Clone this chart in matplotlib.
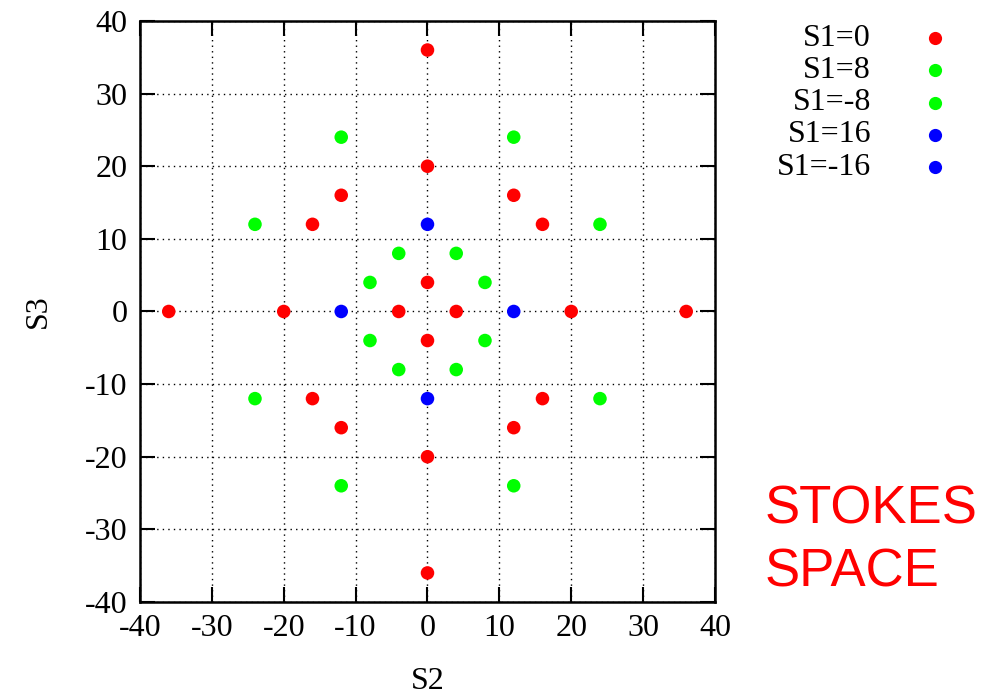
import matplotlib
matplotlib.use('Agg')
import matplotlib.pyplot as plt
from matplotlib.lines import Line2D

# constellation points in Stokes space (S2, S3), grouped by S1
s2_s1_0 = [0, 0, 0, 0, 0, 0, -36, -20, -4, 4, 20, 36, -12, 12, -16, 16, -16, 16, -12, 12]
s3_s1_0 = [36, 20, 4, -4, -20, -36, 0, 0, 0, 0, 0, 0, 16, 16, 12, 12, -12, -12, -16, -16]

s2_s1_p8 = [-4, 4, -8, 8, -8, 8, -4, 4]
s3_s1_p8 = [8, 8, 4, 4, -4, -4, -8, -8]

s2_s1_m8 = [-12, 12, -24, 24, -24, 24, -12, 12]
s3_s1_m8 = [24, 24, 12, 12, -12, -12, -24, -24]

s2_s1_p16 = [0, 0]
s3_s1_p16 = [12, -12]

s2_s1_m16 = [-12, 12]
s3_s1_m16 = [0, 0]

labels = ['S1=0', 'S1=8', 'S1=-8', 'S1=16', 'S1=-16']
colors = ['#ff0000', '#00ff00', '#00ff00', '#0000ff', '#0000ff']
xs = [s2_s1_0, s2_s1_p8, s2_s1_m8, s2_s1_p16, s2_s1_m16]
ys = [s3_s1_0, s3_s1_p8, s3_s1_m8, s3_s1_p16, s3_s1_m16]

plt.rcParams['axes.unicode_minus'] = False
serif = ['Liberation Serif', 'DejaVu Serif']
fs = 23

fig = plt.figure(figsize=(9.9, 6.99), dpi=100)
ax = fig.add_axes([0.1414, 0.1388, 0.5808, 0.8312])

for x, y, c in zip(xs, ys, colors):
    ax.scatter(x, y, s=95, color=c, edgecolors='none', zorder=3)

ax.set_xlim(-40, 40)
ax.set_ylim(-40, 40)
ax.set_xticks(range(-40, 41, 10))
ax.set_yticks(range(-40, 41, 10))
ax.grid(True, linestyle=(0, (1, 3)), color='black', linewidth=1.0)
ax.tick_params(direction='in', length=11, width=1.5, top=True, right=True, labelsize=fs, pad=9)
for lab in ax.get_xticklabels() + ax.get_yticklabels():
    lab.set_family(serif)
for sp in ax.spines.values():
    sp.set_linewidth(1.8)

ax.set_xlabel('S2', fontsize=fs, family=serif, labelpad=17)
ax.set_ylabel('S3', fontsize=fs, family=serif, labelpad=23)

# legend: right-aligned labels with markers to the right
for i, (lab, c) in enumerate(zip(labels, colors)):
    yy = 1 - (38 + i * 32.3) / 699
    fig.text(871 / 990, yy, lab, ha='right', va='center', fontsize=fs, family=serif)
    fig.add_artist(Line2D([935 / 990], [yy], marker='o', markersize=9.5, color=c,
                          markeredgewidth=0, linestyle='none', transform=fig.transFigure))

fig.text(765 / 990, 1 - 541 / 699, 'STOKES\nSPACE', color='#ff0000', fontsize=38,
         family=['Liberation Sans', 'DejaVu Sans'], ha='left', va='center', linespacing=1.35)

fig.savefig('out.png', dpi=100)
